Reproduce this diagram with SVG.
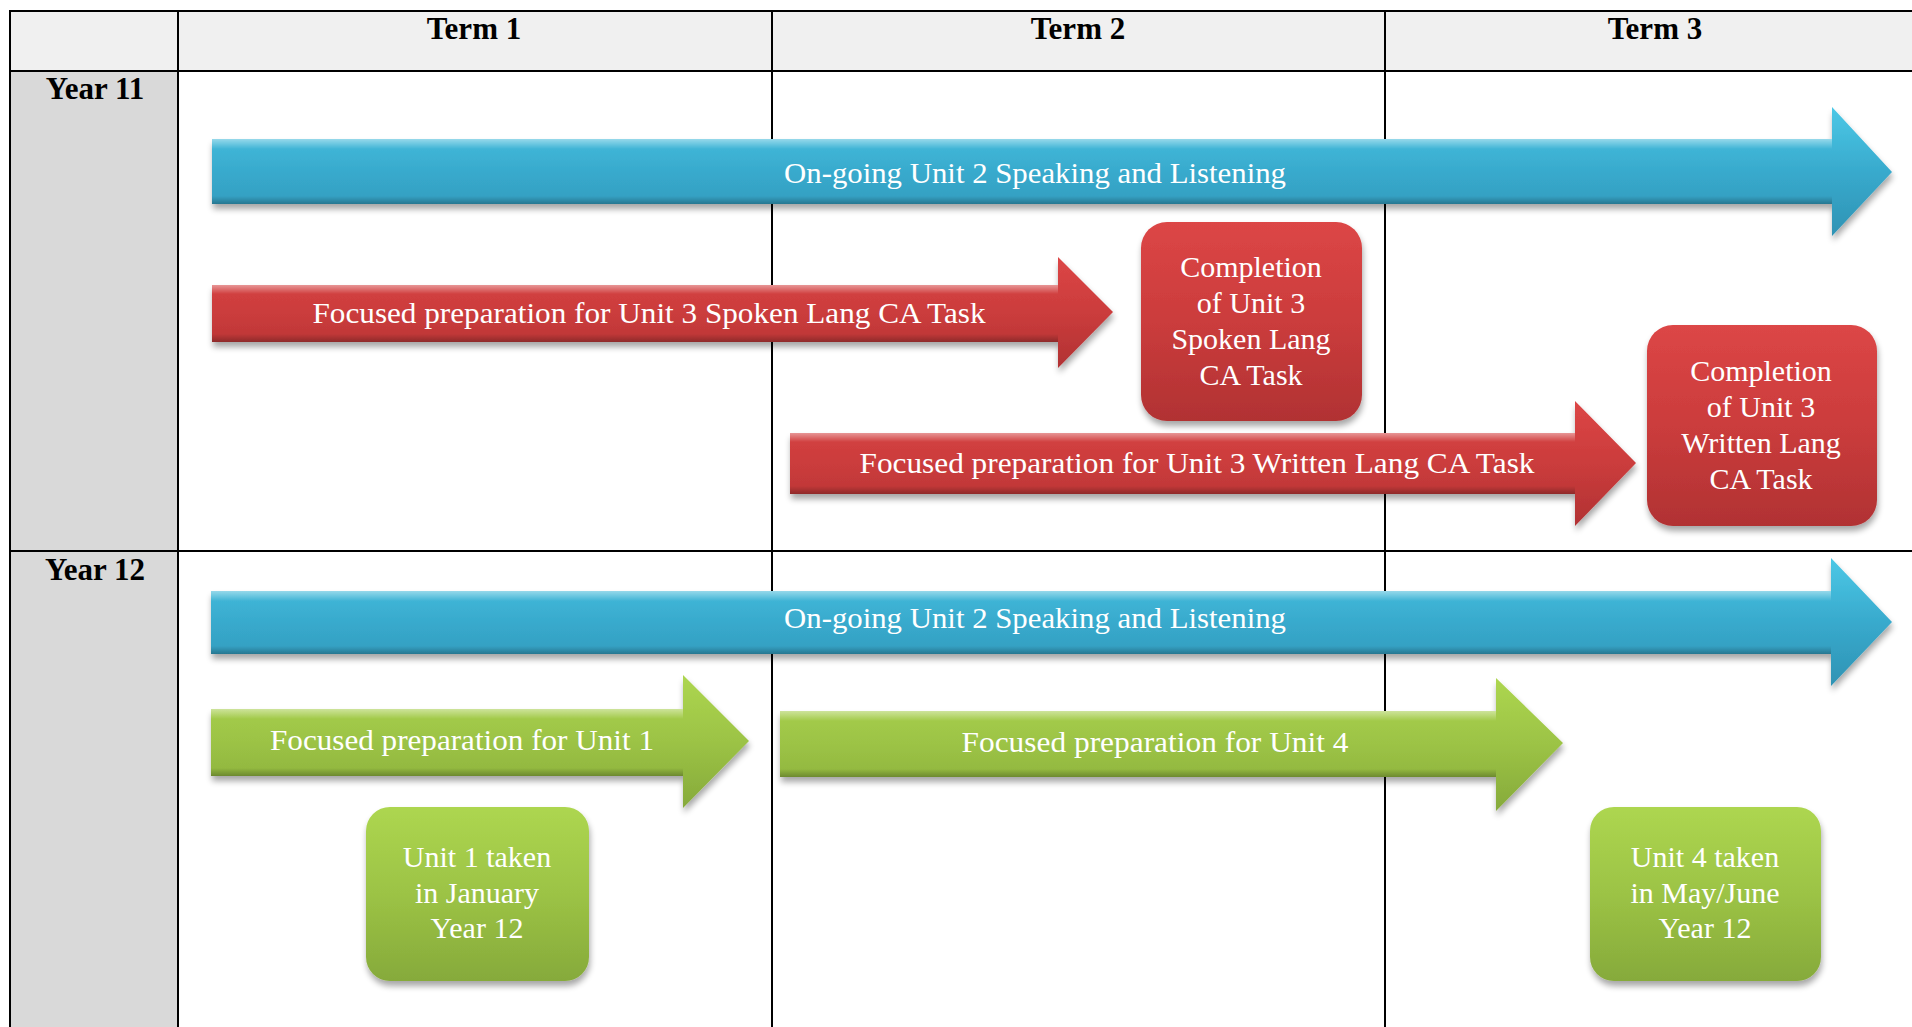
<svg xmlns="http://www.w3.org/2000/svg" width="1912" height="1027" viewBox="0 0 1912 1027">
<style>
.grid{stroke:#000;stroke-width:2;fill:none}
.hdr{font-family:"Liberation Serif","Times New Roman",serif;font-weight:bold;font-size:31px;fill:#000;text-anchor:middle}
.lbl{font-family:"Liberation Serif","Times New Roman",serif;font-size:29px;fill:#fff;text-anchor:middle}
.box{font-size:30px}
.blue{fill:url(#gBlue);filter:url(#sh)}
.red{fill:url(#gRed);filter:url(#sh)}
.green{fill:url(#gGreen);filter:url(#sh)}
.hi{fill:url(#gHi)}
.lo{fill:url(#gLo)}
</style>
<defs>
<filter id="sh" x="-5%" y="-20%" width="110%" height="150%">
<feGaussianBlur in="SourceAlpha" stdDeviation="3"/>
<feOffset dx="1" dy="5" result="b"/>
<feComponentTransfer><feFuncA type="linear" slope="0.35"/></feComponentTransfer>
<feMerge><feMergeNode/><feMergeNode in="SourceGraphic"/></feMerge>
</filter>
<linearGradient id="gBlue" x1="0" y1="0" x2="0" y2="1">
<stop offset="0" stop-color="#4cc8e6"/>
<stop offset="0.5" stop-color="#38aacd"/>
<stop offset="1" stop-color="#2f93b4"/>
</linearGradient>
<linearGradient id="gRed" x1="0" y1="0" x2="0" y2="1">
<stop offset="0" stop-color="#dc4646"/>
<stop offset="0.5" stop-color="#cb3c3c"/>
<stop offset="1" stop-color="#b13233"/>
</linearGradient>
<linearGradient id="gGreen" x1="0" y1="0" x2="0" y2="1">
<stop offset="0" stop-color="#add650"/>
<stop offset="0.5" stop-color="#9cc345"/>
<stop offset="1" stop-color="#86aa3b"/>
</linearGradient>
<linearGradient id="gHi" x1="0" y1="0" x2="0" y2="1">
<stop offset="0" stop-color="#fff" stop-opacity="0.45"/>
<stop offset="1" stop-color="#fff" stop-opacity="0"/>
</linearGradient>
<linearGradient id="gLo" x1="0" y1="0" x2="0" y2="1">
<stop offset="0" stop-color="#000" stop-opacity="0"/>
<stop offset="1" stop-color="#000" stop-opacity="0.25"/>
</linearGradient>
</defs>
<rect width="1912" height="1027" fill="#fff"/>
<g id="table">
<rect x="10" y="11" width="1902" height="60" fill="#f0f0f0"/>
<rect x="10" y="71" width="168" height="956" fill="#d9d9d9"/>
<line class="grid" x1="9" y1="11" x2="1912" y2="11"/>
<line class="grid" x1="9" y1="71" x2="1912" y2="71"/>
<line class="grid" x1="9" y1="551" x2="1912" y2="551"/>
<line class="grid" x1="10" y1="10" x2="10" y2="1027"/>
<line class="grid" x1="178" y1="10" x2="178" y2="1027"/>
<line class="grid" x1="772" y1="10" x2="772" y2="1027"/>
<line class="grid" x1="1385" y1="10" x2="1385" y2="1027"/>
<text class="hdr" x="474" y="39">Term 1</text>
<text class="hdr" x="1078" y="39">Term 2</text>
<text class="hdr" x="1655" y="39">Term 3</text>
<text class="hdr" x="95" y="99">Year 11</text>
<text class="hdr" x="95" y="580">Year 12</text>
</g>
<g id="y11-speaking">
<path class="blue" d="M212,139 L1832,139 L1832,107 L1892,172 L1832,236 L1832,204 L212,204 Z"/>
<rect class="hi" x="212" y="139" width="1620" height="10"/>
<rect class="lo" x="212" y="196" width="1620" height="8"/>
<text class="lbl" x="1035" y="183" textLength="502" lengthAdjust="spacingAndGlyphs">On-going Unit 2 Speaking and Listening</text>
</g>
<g id="y11-spoken-prep">
<path class="red" d="M212,285 L1058,285 L1058,257 L1113,312 L1058,368 L1058,342 L212,342 Z"/>
<rect class="hi" x="212" y="285" width="846" height="9"/>
<rect class="lo" x="212" y="334" width="846" height="8"/>
<text class="lbl" x="649" y="323" textLength="673" lengthAdjust="spacingAndGlyphs">Focused preparation for Unit 3 Spoken Lang CA Task</text>
</g>
<g id="y11-spoken-complete">
<rect class="red" x="1141" y="222" width="221" height="199" rx="26"/>
<text class="lbl box" x="1251" y="277">Completion</text>
<text class="lbl box" x="1251" y="313">of Unit 3</text>
<text class="lbl box" x="1251" y="349">Spoken Lang</text>
<text class="lbl box" x="1251" y="385">CA Task</text>
</g>
<g id="y11-written-prep">
<path class="red" d="M790,433 L1575,433 L1575,401 L1636,463 L1575,526 L1575,494 L790,494 Z"/>
<rect class="hi" x="790" y="433" width="785" height="9"/>
<rect class="lo" x="790" y="486" width="785" height="8"/>
<text class="lbl" x="1197" y="473" textLength="675" lengthAdjust="spacingAndGlyphs">Focused preparation for Unit 3 Written Lang CA Task</text>
</g>
<g id="y11-written-complete">
<rect class="red" x="1647" y="325" width="230" height="201" rx="26"/>
<text class="lbl box" x="1761" y="381">Completion</text>
<text class="lbl box" x="1761" y="417">of Unit 3</text>
<text class="lbl box" x="1761" y="453">Written Lang</text>
<text class="lbl box" x="1761" y="489">CA Task</text>
</g>
<g id="y12-speaking">
<path class="blue" d="M211,591 L1831,591 L1831,558 L1892,622 L1831,686 L1831,654 L211,654 Z"/>
<rect class="hi" x="211" y="591" width="1620" height="10"/>
<rect class="lo" x="211" y="646" width="1620" height="8"/>
<text class="lbl" x="1035" y="628" textLength="502" lengthAdjust="spacingAndGlyphs">On-going Unit 2 Speaking and Listening</text>
</g>
<g id="y12-unit1-prep">
<path class="green" d="M211,709 L683,709 L683,675 L749,741 L683,808 L683,776 L211,776 Z"/>
<rect class="hi" x="211" y="709" width="472" height="10"/>
<rect class="lo" x="211" y="768" width="472" height="8"/>
<text class="lbl" x="462" y="750" textLength="384" lengthAdjust="spacingAndGlyphs">Focused preparation for Unit 1</text>
</g>
<g id="y12-unit4-prep">
<path class="green" d="M780,711 L1496,711 L1496,678 L1563,743 L1496,811 L1496,777 L780,777 Z"/>
<rect class="hi" x="780" y="711" width="716" height="10"/>
<rect class="lo" x="780" y="769" width="716" height="8"/>
<text class="lbl" x="1155" y="752" textLength="387" lengthAdjust="spacingAndGlyphs">Focused preparation for Unit 4</text>
</g>
<g id="y12-unit1-taken">
<rect class="green" x="366" y="807" width="223" height="174" rx="24"/>
<text class="lbl box" x="477" y="867">Unit 1 taken</text>
<text class="lbl box" x="477" y="903">in January</text>
<text class="lbl box" x="477" y="938">Year 12</text>
</g>
<g id="y12-unit4-taken">
<rect class="green" x="1590" y="807" width="231" height="174" rx="24"/>
<text class="lbl box" x="1705" y="867">Unit 4 taken</text>
<text class="lbl box" x="1705" y="903">in May/June</text>
<text class="lbl box" x="1705" y="938">Year 12</text>
</g>
</svg>
